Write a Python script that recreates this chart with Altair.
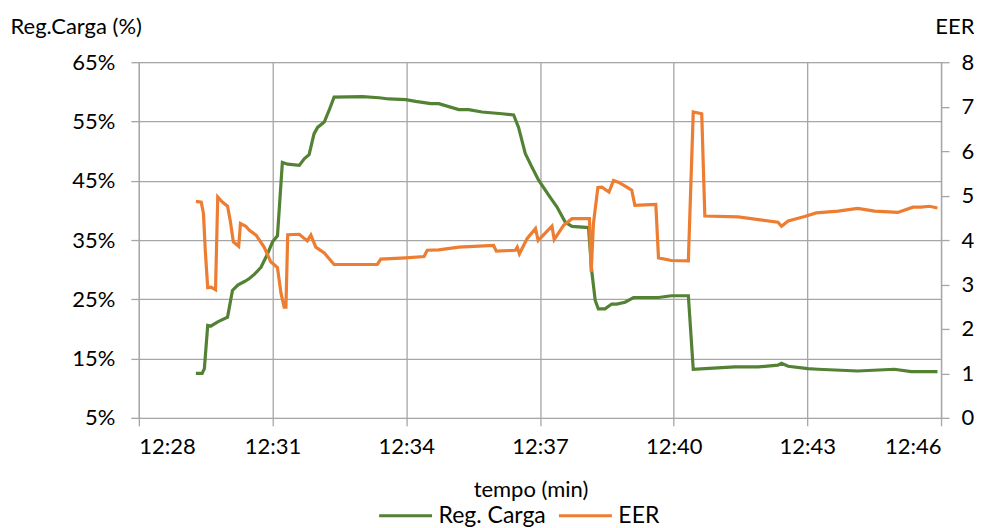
import altair as alt
import pandas as pd

# Minutes after 12:28
reg_t = [1.28, 1.42, 1.47, 1.545, 1.62, 1.77, 1.99, 2.10, 2.22, 2.37, 2.48, 2.59, 2.74, 2.89, 3.0,
         3.11, 3.22, 3.34, 3.60, 3.71, 3.82, 3.93, 4.01, 4.16, 4.27, 4.38, 5.02, 5.39, 5.61, 5.99,
         6.21, 6.55, 6.73, 7.18, 7.40, 7.70, 8.15, 8.41, 8.52, 8.67, 8.82, 8.97, 9.23, 9.38, 9.57,
         9.72, 10.09, 10.16, 10.24, 10.31, 10.46, 10.61, 10.72, 10.91, 11.10, 11.36, 11.66, 11.95,
         12.33, 12.44, 12.70, 13.37, 13.90, 14.34, 14.42, 14.57, 15.01, 15.24, 16.13, 16.95, 17.33,
         17.92]
reg_v = [12.5, 12.5, 13.3, 20.6, 20.5, 21.2, 22.0, 26.5, 27.4, 28.0, 28.5, 29.2, 30.4, 32.7, 34.7,
         35.7, 48.1, 47.8, 47.6, 48.7, 49.4, 52.9, 54.0, 54.9, 56.9, 59.1, 59.2, 59.0, 58.8, 58.7,
         58.4, 58.0, 58.0, 57.0, 57.0, 56.6, 56.3, 56.1, 54.0, 49.6, 47.3, 45.1, 42.2, 40.6, 38.0,
         37.3, 37.1, 29.9, 24.8, 23.4, 23.4, 24.2, 24.2, 24.5, 25.3, 25.3, 25.3, 25.6,
         25.6, 13.2, 13.3, 13.6, 13.6, 13.9, 14.2, 13.7, 13.3, 13.2, 12.9, 13.2, 12.8,
         12.8]

eer_t = [1.28, 1.40, 1.45, 1.49, 1.545, 1.62, 1.72, 1.77, 1.88, 1.99, 2.05, 2.12, 2.24, 2.28, 2.40,
         2.48, 2.63, 2.81, 2.96, 3.11, 3.19, 3.26, 3.30, 3.34, 3.60, 3.78, 3.86, 3.97, 4.16, 4.38,
         5.35, 5.43, 5.99, 6.40, 6.47, 6.73, 7.18, 7.96, 8.02, 8.45, 8.49, 8.54, 8.71, 8.90, 8.96,
         9.27, 9.32, 9.53, 9.72, 10.11, 10.15, 10.20, 10.30, 10.39, 10.55, 10.65, 10.76, 10.95,
         11.06, 11.13, 11.36, 11.60, 11.66, 11.95, 12.33, 12.44, 12.63, 12.70, 13.45, 14.34, 14.42,
         14.57, 14.94, 15.20, 15.69, 16.13, 16.51, 17.03, 17.37, 17.55, 17.74, 17.92]
eer_v = [4.87, 4.85, 4.59, 3.77, 2.93, 2.94, 2.88, 4.97, 4.85, 4.76, 4.44, 3.96, 3.86, 4.37, 4.31,
         4.22, 4.11, 3.84, 3.51, 3.38, 2.80, 2.49, 2.49, 4.12, 4.13, 3.98, 4.11, 3.84, 3.71, 3.45,
         3.45, 3.57, 3.60, 3.63, 3.77, 3.78, 3.84, 3.88, 3.75, 3.77, 3.84, 3.69, 4.03, 4.26, 3.99,
         4.31, 4.01, 4.33, 4.48, 4.48, 3.28, 4.37, 5.18, 5.19, 5.08, 5.34, 5.30, 5.19,
         5.12, 4.78, 4.79, 4.80, 3.60, 3.54, 3.53, 6.88, 6.84, 4.54, 4.52, 4.40, 4.31,
         4.43, 4.53, 4.61, 4.65, 4.71, 4.65, 4.62, 4.74, 4.74, 4.76, 4.72]

x_ticks = [0, 3, 6, 9, 12, 15, 18]
x_labels = ["12:28", "12:31", "12:34", "12:37", "12:40", "12:43", "12:46"]
left_ticks = [5, 15, 25, 35, 45, 55, 65]
right_ticks = [0, 1, 2, 3, 4, 5, 6, 7, 8]
series_names = ["Reg. Carga", "EER"]
series_colors = ["#548235", "#ED7D31"]

df = pd.concat([
    pd.DataFrame({"t": reg_t, "v": reg_v, "s": series_names[0], "o": range(len(reg_t))}),
    pd.DataFrame({"t": eer_t, "v": eer_v, "s": series_names[1], "o": range(len(eer_t))}),
])

FONT = "Lato"
GRID = "#A6A6A6"
label_expr = "[" + ",".join(f"'{l}'" for l in x_labels) + "][datum.value/3]"

x_enc = alt.X("t:Q", scale=alt.Scale(domain=[0, 18], nice=False, zero=False),
              axis=alt.Axis(values=x_ticks, labelExpr=label_expr, title="tempo (min)",
                            grid=True, gridColor=GRID, gridWidth=1.3,
                            domain=False, ticks=True, tickColor=GRID, tickSize=8, tickWidth=1.3,
                            labelFontSize=22, labelFont=FONT, labelColor="#000", labelPadding=11,
                            titleFont=FONT, titleFontSize=22, titleFontWeight="normal",
                            titleColor="#000", titleX=392, titleY=72, titleBaseline="middle",
                            titleAlign="center"))

color_enc = alt.Color("s:N", scale=alt.Scale(domain=series_names, range=series_colors),
                      legend=alt.Legend(orient="none", legendX=239, legendY=426,
                                        direction="horizontal", title=None,
                                        symbolType="stroke", symbolSize=2809,
                                        symbolStrokeWidth=3, labelFont=FONT,
                                        labelFontSize=23, labelColor="#000",
                                        labelOffset=5, columnPadding=6))

left = alt.Chart(df).transform_filter(alt.datum.s == series_names[0]).mark_line(
    strokeWidth=3.2, interpolate="linear").encode(
    x=x_enc,
    y=alt.Y("v:Q", scale=alt.Scale(domain=[5, 65], nice=False, zero=False),
            axis=alt.Axis(values=left_ticks, labelExpr="datum.value + '%'",
                          title="Reg.Carga (%)", grid=True, gridColor=GRID, gridWidth=1.3,
                          domain=True, domainColor=GRID, domainWidth=1.3,
                          ticks=True, tickColor=GRID, tickSize=8, tickWidth=1.3,
                          labelFontSize=22, labelFont=FONT, labelColor="#000", labelPadding=16,
                          titleAngle=0, titleX=-129, titleY=-36, titleAlign="left",
                          titleBaseline="middle", titleFont=FONT, titleFontSize=22,
                          titleFontWeight="normal", titleColor="#000")),
    color=color_enc,
    order="o:Q",
)

right = alt.Chart(df).transform_filter(alt.datum.s == series_names[1]).mark_line(
    strokeWidth=3.2, interpolate="linear").encode(
    x=x_enc,
    y=alt.Y("v:Q", scale=alt.Scale(domain=[0, 8], nice=False, zero=False),
            axis=alt.Axis(orient="right", values=right_ticks, title="EER", grid=False,
                          domain=True, domainColor=GRID, domainWidth=1.3,
                          ticks=True, tickColor=GRID, tickSize=8, tickWidth=1.3,
                          labelFontSize=22, labelFont=FONT, labelColor="#000", labelPadding=12,
                          titleAngle=0, titleX=33, titleY=-36, titleAlign="right",
                          titleBaseline="middle", titleFont=FONT, titleFontSize=22,
                          titleFontWeight="normal", titleColor="#000")),
    color=color_enc,
    order="o:Q",
)

chart = alt.layer(left, right).resolve_scale(y="independent").properties(
    width=803, height=356,
    padding={"left": 2, "top": 7, "right": 0, "bottom": 0},
).configure_view(stroke=None).configure(background="white")

chart.save("out.html", embed_options={"renderer": "svg", "actions": False})
